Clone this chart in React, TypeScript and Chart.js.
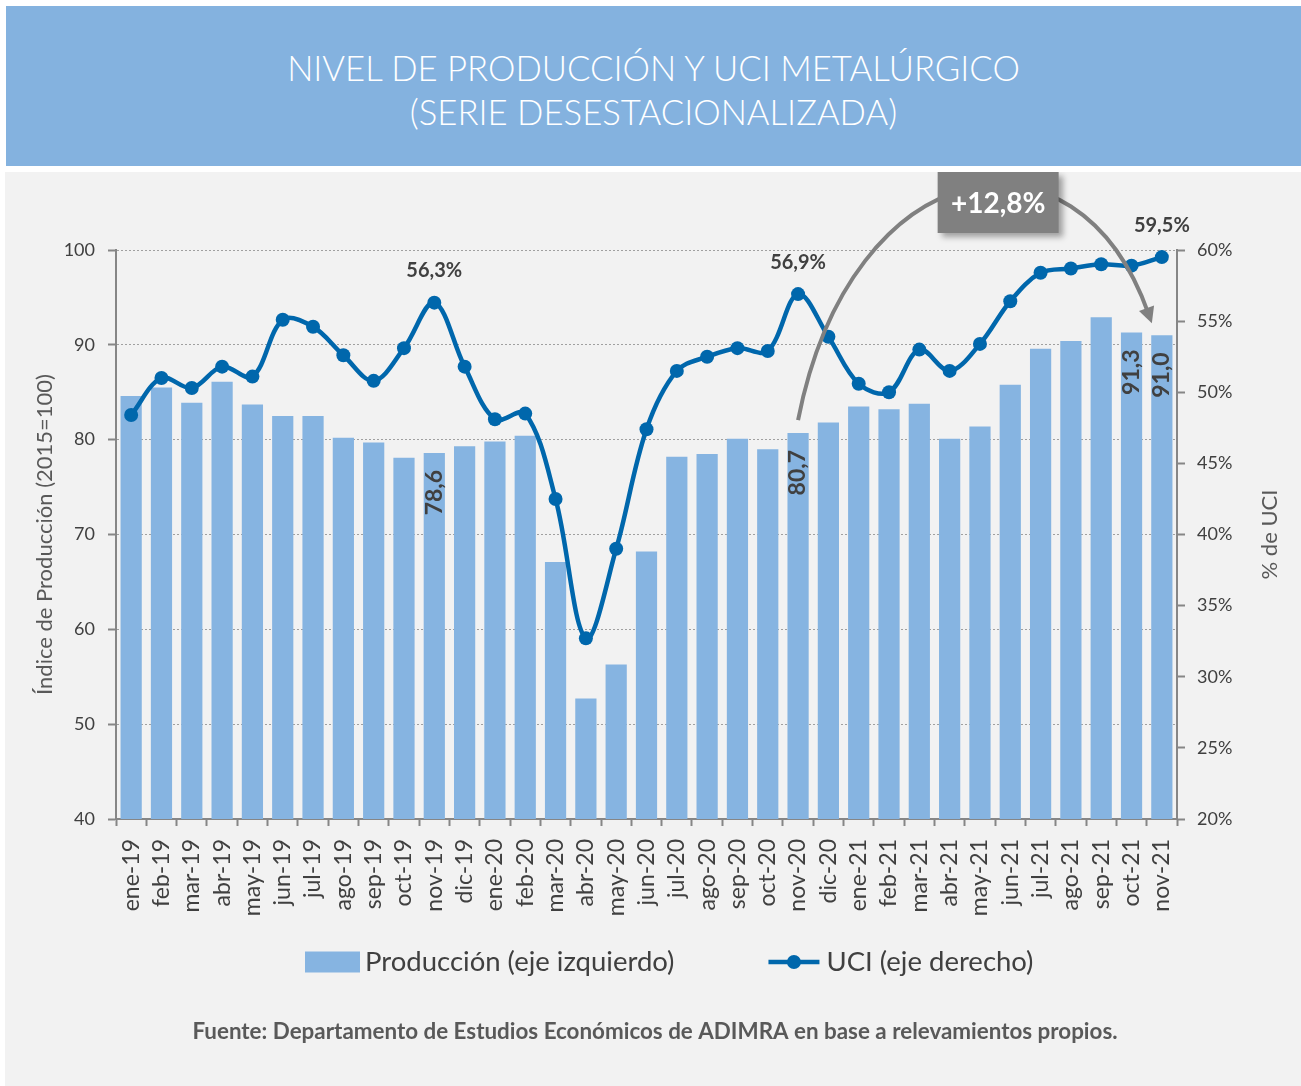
import React, { useEffect, useRef } from 'react';
import { Chart, registerables } from 'chart.js';

Chart.register(...registerables);

const categories = [
  'ene-19', 'feb-19', 'mar-19', 'abr-19', 'may-19', 'jun-19', 'jul-19', 'ago-19', 'sep-19', 'oct-19', 'nov-19', 'dic-19',
  'ene-20', 'feb-20', 'mar-20', 'abr-20', 'may-20', 'jun-20', 'jul-20', 'ago-20', 'sep-20', 'oct-20', 'nov-20', 'dic-20',
  'ene-21', 'feb-21', 'mar-21', 'abr-21', 'may-21', 'jun-21', 'jul-21', 'ago-21', 'sep-21', 'oct-21', 'nov-21',
];

// Índice de Producción (2015=100) - eje izquierdo
const produccion = [
  84.6, 85.5, 83.9, 86.1, 83.7, 82.5, 82.5, 80.2, 79.7, 78.1, 78.6, 79.3,
  79.8, 80.4, 67.1, 52.7, 56.3, 68.2, 78.2, 78.5, 80.1, 79.0, 80.7, 81.8,
  83.5, 83.2, 83.8, 80.1, 81.4, 85.8, 89.6, 90.4, 92.9, 91.3, 91.0,
];

// UCI (%) - eje derecho
const uci = [
  48.4, 51.0, 50.3, 51.8, 51.1, 55.1, 54.6, 52.6, 50.8, 53.1, 56.3, 51.8,
  48.1, 48.5, 42.5, 32.7, 39.0, 47.4, 51.5, 52.5, 53.1, 52.9, 56.9, 53.9,
  50.6, 50.0, 53.0, 51.5, 53.4, 56.4, 58.4, 58.7, 59.0, 58.9, 59.5,
];

const leftAxis = { min: 40, max: 100, step: 10 };
const rightAxis = { min: 20, max: 60, step: 5 };

const prodLabelIdx = [10, 22, 33, 34];
const uciLabelIdx = [10, 22, 34];
const arrowFrom = 22;
const arrowTo = 34;
const changeLabel = '+12,8%';

const titleLines = ['NIVEL DE PRODUCCIÓN Y UCI METALÚRGICO', '(SERIE DESESTACIONALIZADA)'];
const leftTitle = 'Índice de Producción (2015=100)';
const rightTitle = '% de UCI';
const prodLabel = 'Producción (eje izquierdo)';
const uciLabel = 'UCI (eje derecho)';
const sourceText = 'Fuente: Departamento de Estudios Económicos de ADIMRA en base a relevamientos propios.';

const BAR_COLOR = '#86B4E1';
const LINE_COLOR = '#0067AC';
const GRAY = '#868686';
const TEXT = '#404040';
const FONT = 'Lato, Carlito, Calibri, sans-serif';

const fmt = (v: number) => v.toFixed(1).replace('.', ',');

const annotPlugin = {
  id: 'annot',
  afterDatasetsDraw(chart: any) {
    const { ctx, chartArea, scales } = chart;
    const x = scales.x, y = scales.y, y1 = scales.y1;
    ctx.save();
    // UCI labels
    ctx.font = `bold 20px ${FONT}`;
    ctx.fillStyle = TEXT;
    ctx.textAlign = 'center';
    ctx.textBaseline = 'middle';
    uciLabelIdx.forEach((i) => {
      ctx.fillText(fmt(uci[i]) + '%', x.getPixelForValue(i), y1.getPixelForValue(uci[i]) - 32);
    });
    // Production labels (rotated, inside bars)
    ctx.font = `bold 23px ${FONT}`;
    prodLabelIdx.forEach((i) => {
      const px = x.getPixelForValue(i);
      const py = y.getPixelForValue(produccion[i]);
      ctx.save();
      ctx.translate(px, py + 17);
      ctx.rotate(-Math.PI / 2);
      ctx.textAlign = 'right';
      ctx.textBaseline = 'middle';
      ctx.fillText(fmt(produccion[i]), 0, 0);
      ctx.restore();
    });

    // Arrow arc
    const top = chartArea.top;
    const x0 = x.getPixelForValue(arrowFrom);
    const y0 = y.getPixelForValue(produccion[arrowFrom]) - 13;
    const x3 = x.getPixelForValue(arrowTo) - 10;
    const y3 = y.getPixelForValue(produccion[arrowTo]) - 12;
    const p1x = x0 + 53, p1y = top - 100;
    const p2x = x3 - 75, p2y = top - 140;
    let dx = x3 - p2x, dy = y3 - p2y;
    const len = Math.hypot(dx, dy);
    dx /= len; dy /= len;
    const headLen = 16, headHalf = 8;
    ctx.strokeStyle = '#808080';
    ctx.lineWidth = 4;
    ctx.beginPath();
    ctx.moveTo(x0, y0);
    ctx.bezierCurveTo(p1x, p1y, p2x, p2y, x3 - dx * 10, y3 - dy * 10);
    ctx.stroke();
    ctx.fillStyle = '#808080';
    ctx.beginPath();
    ctx.moveTo(x3, y3);
    ctx.lineTo(x3 - dx * headLen - dy * headHalf, y3 - dy * headLen + dx * headHalf);
    ctx.lineTo(x3 - dx * headLen + dy * headHalf, y3 - dy * headLen - dx * headHalf);
    ctx.closePath();
    ctx.fill();

    // Box
    const bw = 121, bh = 61;
    const bcx = x0 + 0.55 * (x.getPixelForValue(arrowTo) - x0);
    const bx = bcx - bw / 2, by = top - 78;
    ctx.save();
    ctx.shadowColor = 'rgba(0,0,0,0.35)';
    ctx.shadowBlur = 6;
    ctx.shadowOffsetX = 4;
    ctx.shadowOffsetY = 4;
    ctx.fillStyle = '#808080';
    ctx.fillRect(bx, by, bw, bh);
    ctx.restore();
    ctx.fillStyle = '#FFFFFF';
    ctx.font = `bold 28px ${FONT}`;
    ctx.textAlign = 'center';
    ctx.textBaseline = 'middle';
    ctx.fillText(changeLabel, bcx, by + bh / 2 + 1);
    ctx.restore();
  },
  afterDraw(chart: any) {
    const { ctx, chartArea } = chart;
    ctx.save();
    // right axis title (reads bottom-to-top)
    ctx.font = `22px ${FONT}`;
    ctx.fillStyle = '#595959';
    ctx.save();
    ctx.translate(1265, (chartArea.top + chartArea.bottom) / 2);
    ctx.rotate(-Math.PI / 2);
    ctx.textAlign = 'center';
    ctx.textBaseline = 'middle';
    ctx.fillText(rightTitle, 0, 0);
    ctx.restore();

    const ly = 790;
    let lx = 300;
    // bar swatch
    ctx.fillStyle = BAR_COLOR;
    ctx.fillRect(lx, ly - 10.5, 55, 21);
    lx += 60;
    ctx.font = `27.5px ${FONT}`;
    ctx.fillStyle = TEXT;
    ctx.textAlign = 'left';
    ctx.textBaseline = 'middle';
    ctx.fillText(prodLabel, lx, ly);
    lx += ctx.measureText(prodLabel).width + 94;
    // line swatch
    ctx.strokeStyle = LINE_COLOR;
    ctx.lineWidth = 4.5;
    ctx.beginPath();
    ctx.moveTo(lx, ly);
    ctx.lineTo(lx + 51, ly);
    ctx.stroke();
    ctx.fillStyle = LINE_COLOR;
    ctx.beginPath();
    ctx.arc(lx + 25.5, ly, 7, 0, Math.PI * 2);
    ctx.fill();
    lx += 58;
    ctx.fillStyle = TEXT;
    ctx.fillText(uciLabel, lx, ly);
    // source
    ctx.font = `bold 22.4px ${FONT}`;
    ctx.fillStyle = '#595959';
    ctx.textAlign = 'center';
    ctx.fillText(sourceText, 650, 860);
    ctx.restore();
  },
};

export default function App() {
  const ref = useRef<HTMLCanvasElement | null>(null);
  useEffect(() => {
    if (!ref.current) return;
    const chart = new Chart(ref.current, {
      type: 'bar',
      data: {
        labels: categories,
        datasets: [
          {
            type: 'line',
            label: uciLabel,
            data: uci,
            yAxisID: 'y1',
            borderColor: LINE_COLOR,
            backgroundColor: LINE_COLOR,
            borderWidth: 4.5,
            tension: 0.35,
            pointRadius: 7,
            pointBorderWidth: 0,
            pointBackgroundColor: LINE_COLOR,
            order: 0,
          } as any,
          {
            type: 'bar',
            label: prodLabel,
            data: produccion,
            yAxisID: 'y',
            backgroundColor: BAR_COLOR,
            borderWidth: 0,
            barPercentage: 0.7,
            categoryPercentage: 1,
            order: 1,
          },
        ],
      },
      options: {
        responsive: false,
        animation: false,
        layout: { padding: { top: 78, left: 0, right: 0, bottom: 0 } },
        plugins: {
          legend: { display: false },
          tooltip: { enabled: false },
          title: { display: false },
        },
        scales: {
          x: {
            afterFit: (s: any) => { s.height = 267; },
            grid: { display: true, drawOnChartArea: false, drawTicks: true, offset: true, tickLength: 7, tickColor: GRAY, tickWidth: 2 },
            border: { display: true, color: GRAY, width: 2 },
            ticks: { autoSkip: false, minRotation: 90, maxRotation: 90, padding: 13, color: TEXT, font: { family: FONT, size: 23 } },
          },
          y: {
            position: 'left',
            min: leftAxis.min,
            max: leftAxis.max,
            afterFit: (s: any) => { s.width = 111; },
            ticks: { stepSize: leftAxis.step, padding: 13, color: TEXT, font: { family: FONT, size: 18 } },
            grid: { color: '#A0A0A0', lineWidth: 1, drawTicks: true, tickLength: 8, tickColor: GRAY, tickWidth: 2, tickBorderDash: [] },
            border: { display: true, color: GRAY, width: 2, dash: [2, 2] },
            title: { display: true, text: leftTitle, color: '#595959', font: { family: FONT, size: 22 }, padding: { top: 27, bottom: 0 } },
          },
          y1: {
            position: 'right',
            min: rightAxis.min,
            max: rightAxis.max,
            afterFit: (s: any) => { s.width = 124; },
            ticks: { stepSize: rightAxis.step, padding: 12, color: TEXT, font: { family: FONT, size: 18 }, callback: (v: any) => `${v}%` },
            grid: { drawOnChartArea: false, drawTicks: true, tickLength: 8, tickColor: GRAY, tickWidth: 2 },
            border: { display: true, color: GRAY, width: 2 },
            title: { display: false },
          },
        },
      } as any,
      plugins: [annotPlugin],
    });
    return () => chart.destroy();
  }, []);

  return (
    <div style={{ position: 'absolute', left: 0, top: 0, width: 1301, height: 1086, background: '#FFFFFF', overflow: 'hidden' }}>
      <div style={{ position: 'absolute', left: 6, top: 6, width: 1295, height: 160, background: '#84B2DF' }}>
        <div style={{ position: 'absolute', left: 0, top: 40, width: '100%', textAlign: 'center', color: '#FFFFFF', fontFamily: FONT, fontWeight: 300, fontSize: 34.7, lineHeight: '44px' }}>
          {titleLines.map((t) => (<div key={t}>{t}</div>))}
        </div>
      </div>
      <div style={{ position: 'absolute', left: 5, top: 172, width: 1296, height: 914, background: '#F2F2F2' }}>
        <canvas ref={ref} width={1296} height={914} style={{ display: 'block', width: 1296, height: 914 }} />
      </div>
    </div>
  );
}
